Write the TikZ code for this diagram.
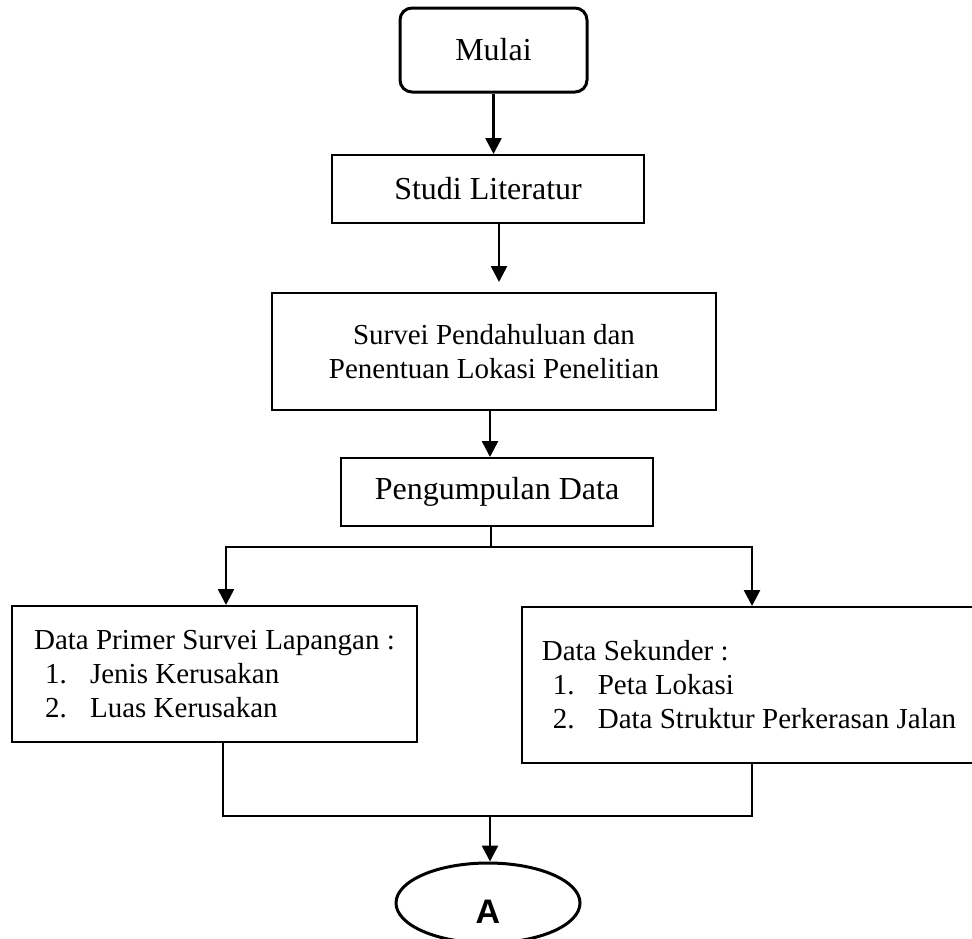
\documentclass[tikz,border=0pt]{standalone}
\usepackage{fontspec}
\setmainfont{Liberation Serif}
\newfontfamily\hurufsans{Liberation Sans}
\usetikzlibrary{arrows.meta,shapes.geometric}

\newcommand{\butir}[2]{\hspace*{5.5pt}\makebox[22.5pt][l]{#1}#2}

\begin{document}
\begin{tikzpicture}[x=0.5pt,y=-0.5pt,font=\fontsize{14.5pt}{17pt}\selectfont,
  kotak/.style={draw,line width=1pt,rectangle,inner sep=0pt,align=center},
  besar/.style={font=\fontsize{16pt}{19pt}\selectfont},
  daftar/.style={draw,line width=1pt,rectangle,inner sep=0pt,align=left},
  panah/.style={-{Triangle[length=8pt,width=8pt]},line width=1.3pt},
  garis/.style={line width=1.1pt}]
  \useasboundingbox (0,0) rectangle (972,938);

  \node[kotak,besar,rounded corners=6pt,line width=1.5pt,minimum width=93.5pt,minimum height=42pt] (mulai) at (493.5,50) {Mulai};
  \node[kotak,besar,minimum width=156pt,minimum height=34pt] (studi) at (488,189) {Studi Literatur};
  \node[kotak,minimum width=222pt,minimum height=58.5pt] (survei) at (494,351.5) {Survei Pendahuluan dan\\Penentuan Lokasi Penelitian};
  \node[kotak,besar,minimum width=156pt,minimum height=34pt] (kumpul) at (497,492) {Pengumpulan Data};
  \node[daftar,minimum width=202.5pt,minimum height=68pt] (primer) at (214.5,674) {Data Primer Survei Lapangan :\\ \butir{1.}{Jenis Kerusakan}\\ \butir{2.}{Luas Kerusakan}};
  % The right box runs past the page edge, so its right side is cut off.
  \node[daftar,minimum width=227pt,minimum height=78pt] (sekunder) at (749,685) {Data Sekunder :\\ \butir{1.}{Peta Lokasi}\\ \butir{2.}{Data Struktur Perkerasan Jalan}};
  \node[draw,ellipse,line width=1.5pt,inner sep=0pt,minimum width=92pt,minimum height=40pt,text height=20pt,font=\hurufsans\bfseries\fontsize{17pt}{20pt}\selectfont] (lanjut) at (488,903) {A};

  \draw[panah] (mulai.south) -- (mulai.south |- studi.north);
  \draw[panah,shorten >=5pt] ([xshift=5.5pt]studi.south) -- ([xshift=5.5pt]studi.south |- survei.north);
  \draw[panah] ([xshift=-2pt]survei.south) -- ([xshift=-2pt]survei.south |- kumpul.north);

  % Split into the two kinds of data, then join again.
  \coordinate (cabang) at (491,547);
  \draw[garis] ([xshift=-3pt]kumpul.south) -- (cabang);
  \draw[panah] (cabang) -| ([xshift=5.75pt]primer.north);
  \draw[panah] (cabang) -| ([xshift=1.5pt]sekunder.north);
  \coordinate (gabung) at (490,816);
  \draw[garis] ([xshift=4.25pt]primer.south) |- (gabung);
  \draw[garis] ([xshift=1.5pt]sekunder.south) |- (gabung);
  \draw[panah] (gabung) -- (gabung |- lanjut.north);
\end{tikzpicture}
\end{document}
